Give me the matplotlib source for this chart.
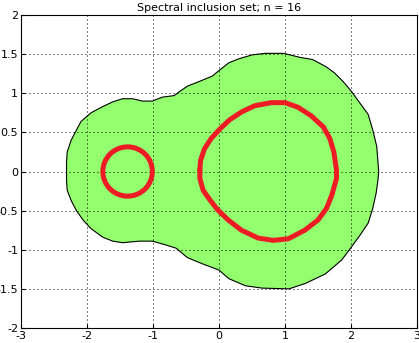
import matplotlib
matplotlib.use("Agg")
import matplotlib.pyplot as plt
from matplotlib.patches import Ellipse

plt.rcParams['font.family'] = ['DejaVu Sans']
plt.rcParams['axes.unicode_minus'] = False

# limite del conjunto de inclusion (mitad superior, de izquierda a derecha)
upper_x = [-2.31, -2.31, -2.30, -2.24, -2.16, -2.09, -1.94, -1.76, -1.61, -1.46,
           -1.31, -1.16, -1.01, -0.86, -0.68, -0.60, -0.48, -0.30, -0.10, 0.00,
           0.15, 0.30, 0.50, 0.70, 0.98, 1.22, 1.42, 1.62, 1.75, 1.88,
           2.01, 2.13, 2.26, 2.33, 2.39, 2.42]
upper_y = [0.00, 0.12, 0.25, 0.40, 0.53, 0.64, 0.75, 0.83, 0.89, 0.93,
           0.93, 0.90, 0.90, 0.95, 0.97, 1.02, 1.09, 1.15, 1.22, 1.29,
           1.39, 1.44, 1.49, 1.51, 1.51, 1.46, 1.43, 1.34, 1.26, 1.15,
           1.02, 0.88, 0.73, 0.53, 0.32, 0.00]

# mitad inferior, de derecha a izquierda
lower_x = [2.41, 2.38, 2.33, 2.26, 2.14, 2.01, 1.86, 1.61, 1.31, 1.06,
           0.65, 0.40, 0.15, 0.00, -0.25, -0.48, -0.65, -0.80, -1.01, -1.21,
           -1.46, -1.61, -1.76, -1.94, -2.06, -2.16, -2.24, -2.30, -2.31]
lower_y = [-0.10, -0.28, -0.47, -0.66, -0.81, -0.96, -1.13, -1.31, -1.43, -1.50,
           -1.49, -1.46, -1.37, -1.26, -1.18, -1.10, -0.98, -0.94, -0.89, -0.89,
           -0.91, -0.89, -0.84, -0.73, -0.62, -0.50, -0.37, -0.24, -0.11]

# curva roja grande: mitad superior (izq. a der.) y mitad inferior (der. a izq.)
big_up_x = [-0.29, -0.28, -0.22, -0.12, 0.01, 0.16, 0.34, 0.54, 0.79, 1.00,
            1.20, 1.40, 1.58, 1.68, 1.74, 1.78]
big_up_y = [0.02, 0.14, 0.29, 0.42, 0.54, 0.66, 0.76, 0.84, 0.88, 0.88,
            0.82, 0.71, 0.57, 0.42, 0.25, 0.02]
big_lo_x = [1.78, 1.71, 1.63, 1.50, 1.30, 1.05, 0.82, 0.59, 0.34, 0.14,
            -0.02, -0.14, -0.24, -0.29, -0.29]
big_lo_y = [-0.09, -0.30, -0.47, -0.62, -0.75, -0.86, -0.88, -0.85, -0.75, -0.62,
            -0.49, -0.36, -0.24, -0.09, 0.02]

# circulo rojo pequeno
small_center = (-1.385, 0.0)
small_rx = 0.375
small_ry = 0.315

title = "Spectral inclusion set; n = 16"

fig = plt.figure(figsize=(4.19, 3.43), dpi=100)
ax = fig.add_axes([21 / 419, 15 / 343, 396 / 419, 313 / 343])

bx = upper_x + lower_x
by = upper_y + lower_y
ax.fill(bx, by, facecolor='#94FF6E', edgecolor='black', linewidth=0.8,
        joinstyle='round', zorder=1)

cx = big_up_x + big_lo_x
cy = big_up_y + big_lo_y
ax.plot(cx, cy, color='#ED1C24', linewidth=3.6, zorder=3,
        solid_capstyle='round', solid_joinstyle='round')

ax.add_patch(Ellipse(small_center, 2 * small_rx, 2 * small_ry, fill=False,
                     edgecolor='#ED1C24', linewidth=3.6, zorder=3))

ax.set_xlim(-3, 3)
ax.set_ylim(-2, 2)
ax.set_xticks([-3, -2, -1, 0, 1, 2, 3])
ax.set_yticks([-2, -1.5, -1, -0.5, 0, 0.5, 1, 1.5, 2])
ax.set_xticklabels(['-3', '-2', '-1', '0', '1', '2', '3'])
ax.set_yticklabels(['-2', '-1.5', '-1', '-0.5', '0', '0.5', '1', '1.5', '2'])
ax.tick_params(direction='in', length=3, labelsize=8, pad=2)
ax.grid(True, color='black', linewidth=0.72, linestyle=(0, (1, 3)), zorder=2)
ax.set_axisbelow(False)
for s in ax.spines.values():
    s.set_linewidth(0.8)
    s.set_zorder(4)

ax.set_title(title, fontsize=8, pad=3)

fig.savefig("out.png", dpi=100)
